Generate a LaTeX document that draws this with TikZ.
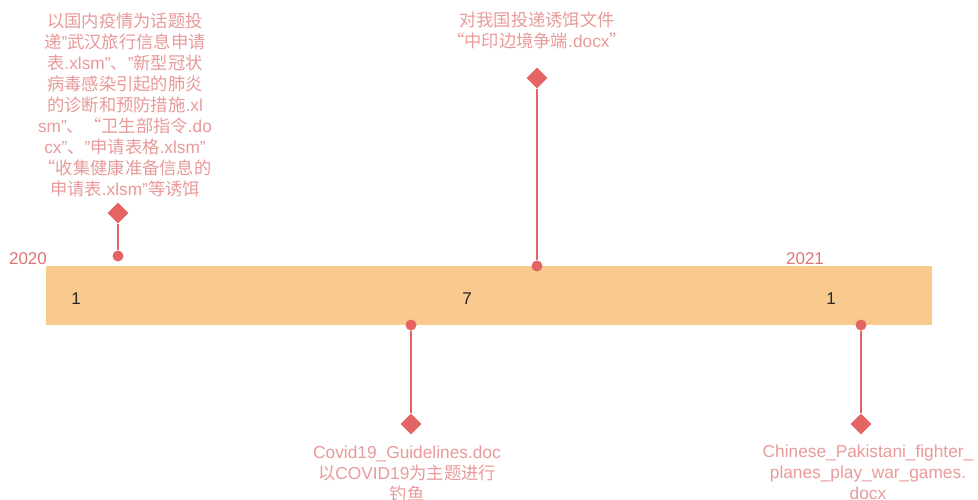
\documentclass[tikz,border=0pt]{standalone}
\usepackage{fontspec}
\setmainfont{Liberation Sans}
\newfontfamily\cjk{Noto Sans CJK SC}
\newcommand{\C}[1]{{\cjk #1}}
\usetikzlibrary{shapes.geometric}
\definecolor{barfill}{HTML}{F8CA8D}
\definecolor{pinred}{HTML}{E46464}
\definecolor{labpink}{HTML}{E99A9A}
\definecolor{yearred}{HTML}{E07474}
\tikzset{
  pinline/.style={draw=pinred, line width=1.2pt},
  pindot/.style={circle, fill=pinred, inner sep=0pt, minimum size=11pt},
  pindia/.style={diamond, fill=pinred, inner sep=0pt, minimum size=21pt},
  evlabel/.style={text=labpink, align=center, inner sep=0pt, font=\fontsize{17.3}{21}\selectfont},
  yearlab/.style={text=yearred, inner sep=0pt, font=\fontsize{17}{20}\selectfont},
  numlab/.style={text=black!85, inner sep=0pt, font=\fontsize{17}{20}\selectfont}
}
\begin{document}
\begin{tikzpicture}[x=1pt, y=-1pt]
\useasboundingbox (0,0) rectangle (978,499);
\fill[white] (0,0) rectangle (978,499);
% bar
\node[fill=barfill, minimum width=886pt, minimum height=59pt, inner sep=0pt, anchor=north west] (bar) at (46,266) {};
\node[yearlab] (y2020) at (28,259) {2020};
\node[yearlab] (y2021) at (805,259) {2021};
\node[numlab] (n1) at (76,299) {1};
\node[numlab] (n7) at (467,299) {7};
\node[numlab] (n1b) at (831,299) {1};
% pin 1 (up)
\node[pindot] (d1) at (118,256) {};
\node[pindia] (k1) at (118,213) {};
\draw[pinline] (d1) -- (k1);
\node[evlabel, anchor=north] (t1) at (125,13) {\C{以国内疫情为话题投}\\
\C{递}"\C{武汉旅行信息申请}\\
\C{表}.xlsm"\C{、}"\C{新型冠状}\\
\C{病毒感染引起的肺炎}\\
\C{的诊断和预防措施}.xl\\
sm"\C{、“卫生部指令}.do\\
cx"\C{、}"\C{申请表格}.xlsm"\\
\C{“收集健康准备信息的}\\
\C{申请表}.xlsm"\C{等诱饵}};
% pin 2 (up)
\node[pindot] (d2) at (537,266) {};
\node[pindia] (k2) at (537,78) {};
\draw[pinline] (d2) -- (k2);
\node[evlabel, anchor=north] (t2) at (537,12) {\C{对我国投递诱饵文件}\\
\C{“中印边境争端}.docx\C{”}};
% pin 3 (down)
\node[pindot] (d3) at (411,325) {};
\node[pindia] (k3) at (411,424) {};
\draw[pinline] (d3) -- (k3);
\node[evlabel, anchor=north] (t3) at (407,446) {Covid19\_Guidelines.doc\\
\C{以}COVID19\C{为主题进行}\\
\C{钓鱼}};
% pin 4 (down)
\node[pindot] (d4) at (861,325) {};
\node[pindia] (k4) at (861,424) {};
\draw[pinline] (d4) -- (k4);
\node[evlabel, anchor=north] (t4) at (868,445) {Chinese\_Pakistani\_fighter\_\\
planes\_play\_war\_games.\\
docx};
\end{tikzpicture}
\end{document}
